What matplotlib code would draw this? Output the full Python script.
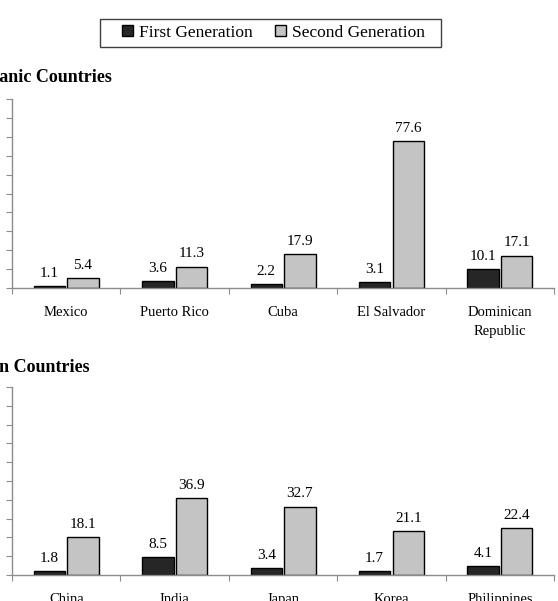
import matplotlib.pyplot as plt
from matplotlib.patches import Rectangle
import numpy as np

hisp_countries = ['Mexico', 'Puerto Rico', 'Cuba', 'El Salvador', 'Dominican\nRepublic']
hisp_first = [1.1, 3.6, 2.2, 3.1, 10.1]
hisp_second = [5.4, 11.3, 17.9, 77.6, 17.1]

asian_countries = ['China', 'India', 'Japan', 'Korea', 'Philippines']
asian_first = [1.8, 8.5, 3.4, 1.7, 4.1]
asian_second = [18.1, 36.9, 32.7, 21.1, 22.4]

plt.rcParams['font.family'] = ['Liberation Serif', 'DejaVu Serif']

dark = '#262626'
light = '#c4c4c4'
spine_c = '#8c8c8c'


def draw_panel(ax, cats, first, second, ymax):
    x = np.arange(len(cats))
    w = 0.29
    b1 = ax.bar(x - 0.155, first, w, color=dark, edgecolor='black', linewidth=1)
    b2 = ax.bar(x + 0.155, second, w, color=light, edgecolor='black', linewidth=1)
    for bars, vals in ((b1, first), (b2, second)):
        for r, v in zip(bars, vals):
            ax.annotate(f'{v:.1f}', (r.get_x() + r.get_width() / 2, v),
                        xytext=(0, 4.5), textcoords='offset points',
                        ha='center', va='bottom', fontsize=11)
    ax.set_xlim(-0.5, len(cats) - 0.5)
    ax.set_ylim(0, ymax)
    ax.set_yticks(np.linspace(0, ymax, 11))
    ax.set_yticklabels([])
    ax.set_xticks(np.arange(len(cats) + 1) - 0.5)
    ax.set_xticklabels([])
    ax.set_xticks(x, minor=True)
    ax.set_xticklabels(cats, minor=True, fontsize=10.5, linespacing=1.6)
    ax.tick_params(axis='x', which='minor', length=0, pad=13)
    ax.tick_params(axis='both', which='major', length=4, color=spine_c, direction='out')
    for s in ('top', 'right'):
        ax.spines[s].set_visible(False)
    for s in ('left', 'bottom'):
        ax.spines[s].set_color(spine_c)
        ax.spines[s].set_linewidth(1)
    return b1, b2


fig = plt.figure(figsize=(5.58, 6.01), dpi=100)
ax1 = fig.add_axes([0.0215, 0.5208, 0.9715, 0.3142])
ax2 = fig.add_axes([0.0215, 0.0433, 0.9715, 0.3128])

b1, b2 = draw_panel(ax1, hisp_countries, hisp_first, hisp_second, 100)
draw_panel(ax2, asian_countries, asian_first, asian_second, 90)

fig.text(112 / 558, 1 - 77 / 601, 'Hispanic Countries', ha='right', va='center',
         fontsize=13, fontweight='bold')
fig.text(90 / 558, 1 - 367 / 601, 'Asian Countries', ha='right', va='center',
         fontsize=13, fontweight='bold')

leg = fig.legend([b1, b2], ['First Generation', 'Second Generation'], ncol=2,
                 loc='center', bbox_to_anchor=(273.5 / 558, 1 - 33 / 601),
                 fontsize=12.5, frameon=False,
                 handlelength=0.6, handleheight=0.6, handletextpad=0.35,
                 columnspacing=1.3, borderpad=0, borderaxespad=0)
# legend box drawn separately so it can be wider than its contents
fig.add_artist(Rectangle((100 / 558, 1 - 47 / 601), 341 / 558, 28 / 601,
                         transform=fig.transFigure, fill=False,
                         edgecolor='#404040', linewidth=1))

fig.savefig('out.png', dpi=100)
